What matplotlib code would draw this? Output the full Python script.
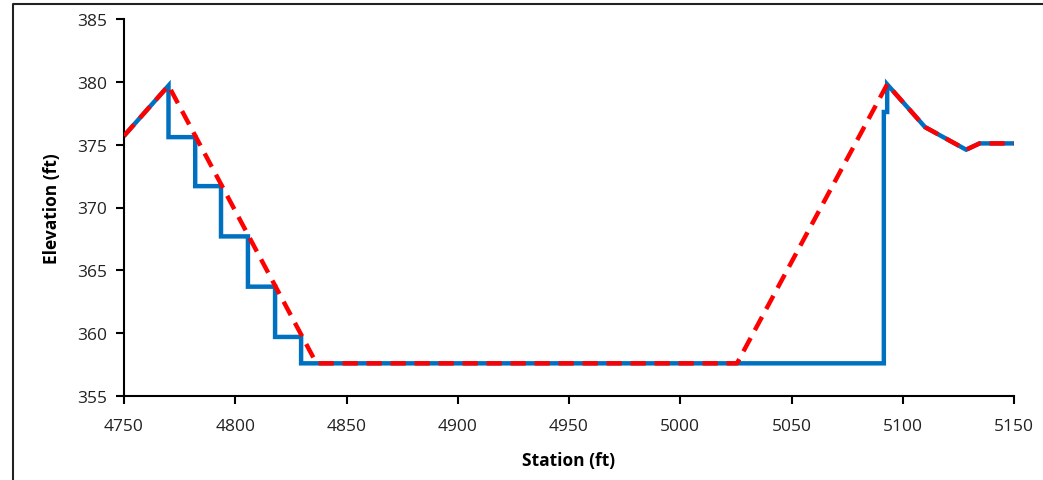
import matplotlib
matplotlib.use("Agg")
import matplotlib.pyplot as plt
from matplotlib.lines import Line2D

# Data
blue_x = [4750, 4770, 4770, 4782, 4782, 4793.6, 4793.6, 4805.7, 4805.7, 4817.9, 4817.9,
          4829.6, 4829.6, 5091.5, 5091.5, 5093, 5093, 5110, 5128.5, 5134.5, 5150]
blue_y = [375.7, 379.7, 375.6, 375.6, 371.7, 371.7, 367.7, 367.7, 363.7, 363.7, 359.7,
          359.7, 357.6, 357.6, 377.6, 377.6, 379.8, 376.4, 374.6, 375.1, 375.1]
red_x = [4750, 4770, 4836.5, 5025.5, 5093, 5110, 5128.5, 5134.5, 5150]
red_y = [375.7, 379.7, 357.6, 357.6, 379.8, 376.4, 374.6, 375.1, 375.1]
x_ticks = [4750, 4800, 4850, 4900, 4950, 5000, 5050, 5100, 5150]
y_ticks = [355, 360, 365, 370, 375, 380, 385]

plt.rcParams['font.family'] = ['Open Sans', 'DejaVu Sans']

W, H = 1043, 481
fig = plt.figure(figsize=(W / 100, H / 100), dpi=100)
ax = fig.add_axes([124 / W, (H - 397) / H, (1014 - 124) / W, (397 - 20) / H])

ax.plot(blue_x, blue_y, color='#0070C0', lw=3.2, solid_joinstyle='miter', zorder=2)
ax.plot(red_x, red_y, color='#FF0000', lw=3.2, dashes=(3.4, 2.0), zorder=3)

ax.set_xlim(4750, 5150)
ax.set_ylim(355, 385)
ax.set_xticks(x_ticks)
ax.set_yticks(y_ticks)
for s in ['top', 'right']:
    ax.spines[s].set_visible(False)
for s in ['left', 'bottom']:
    ax.spines[s].set_linewidth(1.5)
    ax.spines[s].set_color('black')
ax.tick_params(direction='out', length=6, width=1.5, labelsize=12.5, colors='black', pad=6)
ax.tick_params(axis='x', pad=10)
for lbl in ax.get_xticklabels() + ax.get_yticklabels():
    lbl.set_color('#222222')
ax.set_xlabel('Station (ft)', fontsize=12.5, fontweight='bold', labelpad=12)
ax.set_ylabel('Elevation (ft)', fontsize=12.5, fontweight='bold', labelpad=12)

# outer frame
fig.add_artist(Line2D([13 / W, 13 / W, 1.0], [0.0, 1 - 5 / H, 1 - 5 / H],
                      transform=fig.transFigure, color='#222222', lw=1.5))

fig.savefig('out.png', dpi=100)
